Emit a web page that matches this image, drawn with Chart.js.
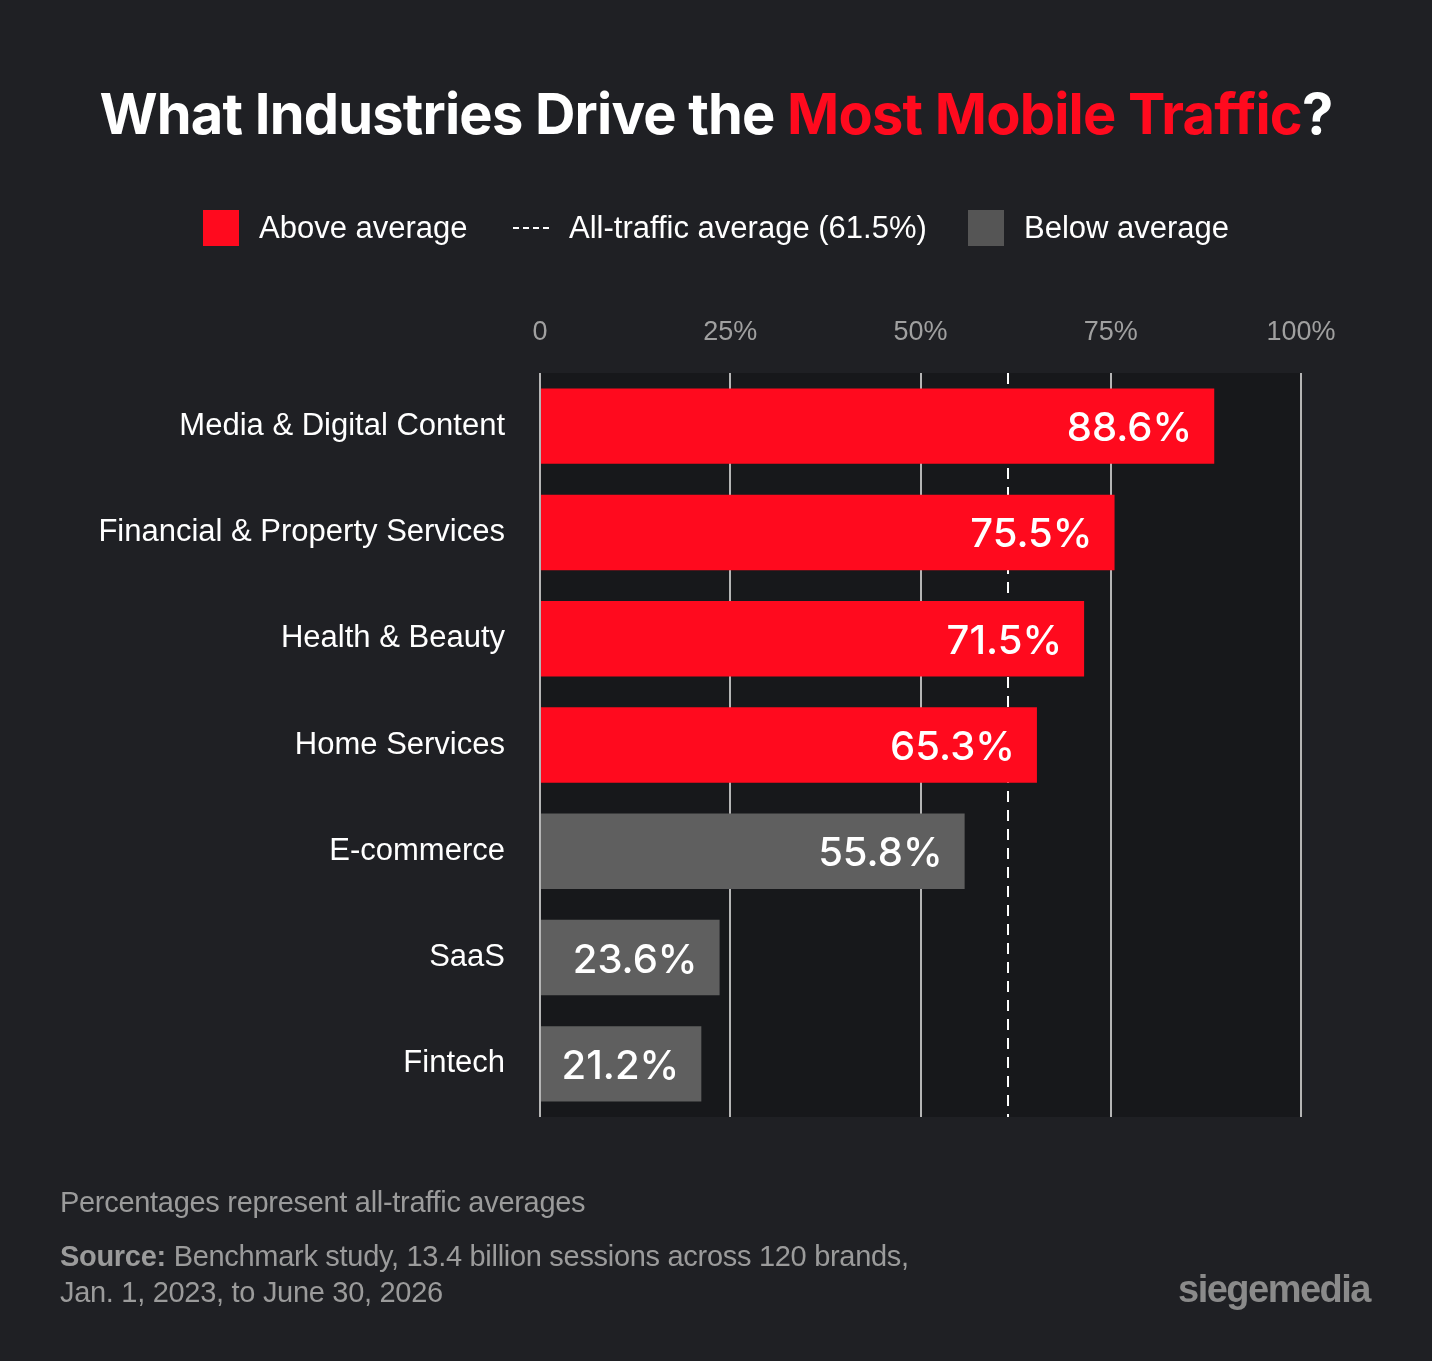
<!DOCTYPE html>
<html><head><meta charset="utf-8">
<script src="https://cdn.jsdelivr.net/npm/chart.js@4"></script>
<style>
html,body{margin:0;padding:0;background:#1f2024;width:1432px;height:1361px;overflow:hidden;font-family:"Liberation Sans",Arial,sans-serif;}
#wrap{position:absolute;left:0;top:0;width:1432px;height:1361px;}
.t{position:absolute;white-space:nowrap;}
#title{left:0;width:1432px;top:80px;text-align:center;color:#fff;font:bold 56px "Inter","Liberation Sans",sans-serif;letter-spacing:-0.8px;}
#title span{color:#ff0a1e;}
.leg{top:210px;color:#fff;font:31px "Liberation Sans",sans-serif;}
.sw{position:absolute;width:36px;height:36px;top:210px;}
.foot{color:#9b9b9b;font:29px "Liberation Sans",sans-serif;letter-spacing:-0.3px}
</style></head><body>
<div id="wrap"><canvas id="c" width="1432" height="1361"></canvas></div>
<div class="t" id="title">What Industries Drive the <span>Most Mobile Traffic</span>?</div>
<div class="sw" style="left:203px;background:#ff0a1e"></div>
<div class="t leg" style="left:259px">Above average</div>
<div style="position:absolute;left:513px;top:227px;width:36px;border-top:2px dashed #fff"></div>
<div class="t leg" style="left:569px">All-traffic average (61.5%)</div>
<div class="sw" style="left:968px;background:#555"></div>
<div class="t leg" style="left:1024px">Below average</div>
<div class="t foot" style="left:60px;top:1186px">Percentages represent all-traffic averages</div>
<div class="t foot" style="left:60px;top:1240px"><b>Source:</b> Benchmark study, 13.4 billion sessions across 120 brands,</div>
<div class="t foot" style="left:60px;top:1276px">Jan. 1, 2023, to June 30, 2026</div>
<div class="t" style="right:62px;top:1268px;color:#8a8a8a;font:bold 38px 'Liberation Sans',sans-serif;letter-spacing:-1.5px">siegemedia</div>
<script>
const categories=["Media & Digital Content","Financial & Property Services","Health & Beauty","Home Services","E-commerce","SaaS","Fintech"];
const values=[88.6,75.5,71.5,65.3,55.8,23.6,21.2];
const average=61.5;
const tickLabels={0:"0",25:"25%",50:"50%",75:"75%",100:"100%"};
const colors=values.map(v=>v>average?"#ff0a1e":"#5f5f5f");
const deco={id:"deco",
beforeDraw(ch){const a=ch.chartArea,c=ch.ctx;c.save();c.fillStyle="#17181b";c.fillRect(a.left,a.top,a.right-a.left,a.bottom-a.top);c.restore();},
beforeDatasetsDraw(ch){const c=ch.ctx,a=ch.chartArea,x=ch.scales.x;const ax=x.getPixelForValue(average);
c.save();c.strokeStyle="#fff";c.lineWidth=2;c.setLineDash([11,8]);c.beginPath();c.moveTo(ax,a.top);c.lineTo(ax,a.bottom);c.stroke();c.restore();},
afterDatasetsDraw(ch){const c=ch.ctx;
const m=ch.getDatasetMeta(0);c.save();c.fillStyle="#fff";c.font="500 40px Inter,'Liberation Sans',sans-serif";c.textAlign="right";c.textBaseline="middle";
m.data.forEach((b,i)=>{c.fillText(values[i].toFixed(1)+"%",b.x-22,b.y+3);});c.restore();}};
new Chart(document.getElementById("c"),{type:"bar",
data:{labels:categories,datasets:[{data:values,backgroundColor:colors,barPercentage:0.71,categoryPercentage:1}]},
plugins:[deco],
options:{indexAxis:"y",responsive:false,animation:false,
layout:{padding:{top:300,bottom:244,right:131,left:0}},
plugins:{legend:{display:false},tooltip:{enabled:false}},
scales:{
x:{position:"top",min:0,max:100,afterFit:s=>{s.height=73},
ticks:{stepSize:25,padding:24,color:"#a0a0a0",font:{size:27,family:"Liberation Sans"},callback:v=>tickLabels[v]},
grid:{color:"#b5b5b5",lineWidth:2,drawTicks:false},border:{display:false}},
y:{afterFit:s=>{s.width=540},grid:{display:false},border:{display:false},
ticks:{padding:27,color:"#fff",font:{size:31,family:"Liberation Sans"}}}}}});
</script></body></html>
